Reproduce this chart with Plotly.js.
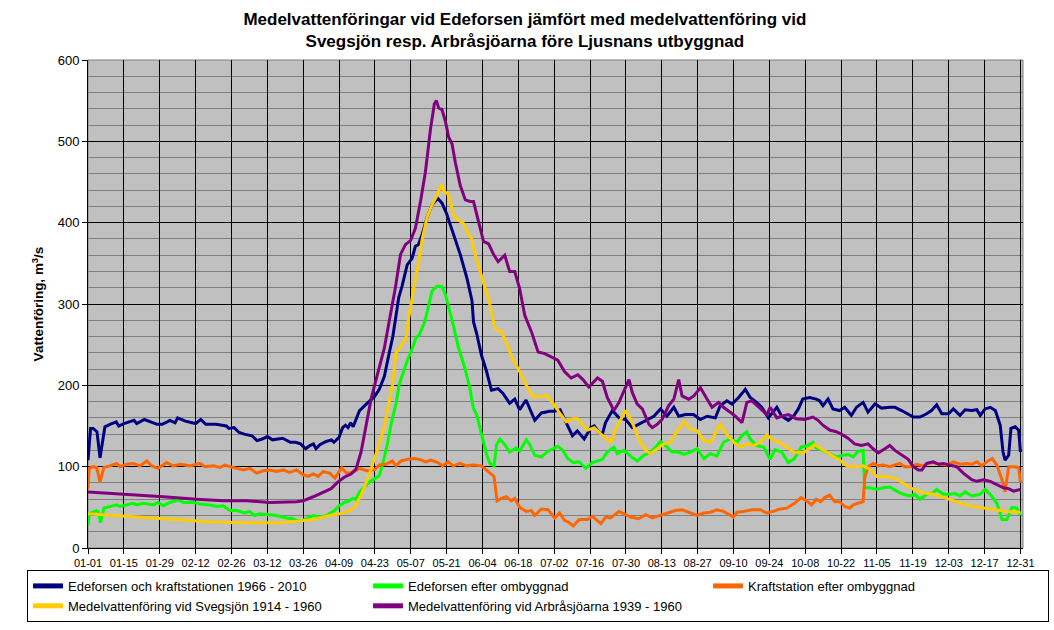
<!DOCTYPE html>
<html>
<head>
<meta charset="utf-8">
<script src="https://cdn.plot.ly/plotly-3.0.1.min.js"></script>
<style>html,body{margin:0;padding:0;background:#fff;}#chart{width:1054px;height:630px;}</style>
</head>
<body>
<div id="chart"></div>
<script>
// Tick positions (day of year, 0 = 01-01) and labels
const tickDays = [0,14,28,42,56,70,84,98,112,126,140,154,168,182,196,210,224,238,252,266,280,294,308,322,336,350,364];
const tickLabels = ["01-01","01-15","01-29","02-12","02-26","03-12","03-26","04-09","04-23","05-07","05-21","06-04","06-18","07-02","07-16","07-30","08-13","08-27","09-10","09-24","10-08","10-22","11-05","11-19","12-03","12-17","12-31"];

const seriesNames = [
  "Edeforsen och kraftstationen 1966 - 2010",
  "Edeforsen efter ombyggnad",
  "Kraftstation efter ombyggnad",
  "Medelvattenföring vid Svegsjön 1914 - 1960",
  "Medelvattenföring vid Arbråsjöarna 1939 - 1960"
];

// Edeforsen och kraftstationen 1966 - 2010
const edeDays = [0,1,2,3.5,4.7,6.6,8.6,11,12,14,18,19,22,27,29,32,34,35,38,42,44,46,50,54,55,57,59,61,64,66,68,70,72,76,79,81,83,85,86.6,88,89,90.5,93,95,96,98,99.4,100.5,101.5,102.5,103.5,106,108,109.5,111.8,113.7,115.7,117.6,119,120.2,121.3,122.6,124.6,126.5,127.8,129,130.4,132.4,134.3,136.5,138.2,140,141.4,142.7,145.3,147.9,149.9,150.5,151.7,153.6,155.6,157.5,160.1,162,164.6,166.6,168.5,171,174.4,177,180.2,182,184.3,186.5,189.1,191,193.7,196.3,197.6,199.5,200.8,202,204.7,207.3,209.9,212.5,215,217.7,220.9,223.5,226,228.7,230.6,233.2,236.4,239,241.7,244.9,246.8,249.4,251.4,254,256.6,258.5,261,263,265.6,268.9,270.8,273.4,275.4,277.3,279,281.7,284.3,285.6,286.9,288.9,290.8,293.4,295.4,298,300,302.6,304.5,307.2,309.8,313,315,317.6,320.2,322.2,324.8,327.4,329.3,331.3,333.3,335.9,337.8,340.4,342.4,345,347,348.3,350.2,352.2,354.2,356.1,357.2,358,359.4,360.3,362,363.3,364];
const edeVals = [108,147,147,143,111,149,152,155,150,153,157,153,158,152,152,157,154,160,156,153,158,152,152,150,147,148,142,140,138,132,134,137,133,135,130,130,128,122,126,128,122,127,131,133,130,136,148,151,148,154,149,169,175,179,186,195,211,240,260,285,308,322,348,356,371,373,385,407,422,430,424,411,398,385,361,332,304,278,264,237,217,194,196,190,178,183,170,182,157,166,168,168,170,155,138,144,134,148,150,142,140,154,169,160,158,148,152,156,162,171,162,173,162,164,164,158,162,160,175,181,177,185,195,185,179,173,160,173,162,157,162,171,183,185,183,181,175,183,171,169,173,163,173,179,167,177,172,173,173,169,165,161,161,165,169,176,165,165,171,163,170,169,170,163,171,173,169,151,118,108,114,147,149,145,118];

// Edeforsen efter ombyggnad
const efterDays = [0,0.5,2,3.4,4,4.9,6.2,8.6,11.2,12.5,15,17.7,19,21.6,25.5,27.4,29.4,32,35.2,37.2,41,43.7,47.6,50.2,52.8,55.4,58,61.2,63,65,67,71,73.6,77.5,80,82,83.7,86,87.9,90.5,93.1,96.2,98.1,100,102,103.3,104.6,106,108,109.8,111.8,113.7,115,117,118.3,120.2,121.5,122.8,124.8,126,128,129.3,131.3,132.4,134.3,136.3,138.2,139.5,140.6,142.6,144.5,147.1,149,150.4,151.7,153.6,155.6,156.9,158.5,159.5,160.8,162.7,164.6,167.2,168.5,171.1,172.5,174.4,177,179.6,183.4,185.4,187.3,189.5,191.7,194.3,196.9,198.9,200.8,202.7,205.3,206.6,209.2,211.8,214.4,217,219.6,221.6,223.5,225.4,228,230.6,232.6,235.2,237.8,240.4,243,245.5,248.1,250.7,253.3,255.3,257.2,258.5,261.1,263.7,266.3,268.2,270.8,273.4,275.8,278.4,281,283,284.3,286.9,289.5,292.1,294.7,296.7,298.7,300.6,302.6,303.2,305.2,307.8,310.4,313,315.6,318.2,320.9,322.8,324.8,327.4,330,331.3,333.9,336.5,338.5,340.4,342.4,345,348.3,350.2,352.2,354.8,356.8,358.7,360.7,362.6,364];
const efterVals = [28,42,44,46,45,31,49,51,53,51,53,55,53,55,53,56,52,56,59,56,56,54,53,51,52,46,46,43,45,40,42,41,40,37,36,33,34,37,40,38,40,46,52,56,58,61,60,69,75,81,85,89,103,130,152,177,201,213,232,240,258,262,277,290,316,322,321,312,299,274,248,221,198,172,164,141,115,104,101,127,134,127,118,123,119,133,127,114,112,119,125,120,110,105,106,98,105,107,109,118,124,116,120,113,107,114,118,124,131,126,118,118,115,118,122,110,116,113,130,134,130,138,143,134,126,124,109,121,118,105,110,124,126,130,123,120,116,112,114,115,112,119,120,74,74,72,74,75,70,66,64,66,60,66,68,72,66,66,67,64,69,64,66,72,66,55,35,35,50,49,40];

// Kraftstation efter ombyggnad
const kraftDays = [0,0.5,2,3.4,4.7,6.2,8.6,11.2,12.5,15,17.7,20.3,22.9,24.9,27.4,30.7,33.3,35.9,39.8,43.7,45.6,48.9,51.5,53.4,55.4,58,60.6,63.2,65.8,68.4,71,73.6,76.2,78.8,81.4,84,86,87.9,89.9,91.8,94.4,96.4,99,100.9,103.5,106,108.7,111.8,113.7,116.3,118.9,120.2,122.2,124.8,127.4,129.3,132,133.9,136.5,138.4,140.6,142.6,145.2,147.8,150.4,153.6,156.9,158.5,159.7,161.4,163.3,165.3,166.6,168.5,171.1,173.1,174.4,177,179.6,182.2,184.1,186,187.5,189.5,191.7,195,196.9,200.2,202.1,204,207.3,209.2,211.8,215,217.7,220.3,223.5,226,229.3,231.9,234.5,237.8,240.4,243,245.5,248.1,252,253.3,255.9,259.2,262.4,265,267.6,270.2,272.8,275.8,278.4,281,282.4,284.3,286,287.6,289.5,291.5,293.4,295.4,297.4,298.7,300.6,302.6,303.2,304.5,306.5,308.5,310.4,313,315,316.9,318.9,321.5,323.5,326.1,328,330,332.6,335.2,337.8,340.4,343,345,347,348.9,350.9,353,354.8,356.8,358,359.4,361.3,363.3,364];
const kraftVals = [73,98,100,99,81,99,101,104,100,103,104,101,107,101,98,105,101,103,101,104,100,101,99,102,100,98,96,98,92,95,96,94,96,93,96,90,88,91,88,94,92,86,99,92,93,98,95,96,102,103,107,101,107,109,110,109,106,108,105,101,106,101,104,101,102,101,93,88,58,61,63,58,61,50,45,46,40,48,47,37,43,34,32,27,35,35,39,30,38,37,45,42,38,36,41,37,40,42,46,47,44,40,43,44,47,45,38,44,45,47,47,43,45,48,49,55,62,57,53,60,57,62,65,57,57,51,49,53,55,57,86,100,104,101,102,100,102,104,100,100,103,101,104,105,103,102,106,103,104,103,106,101,106,110,102,84,69,100,100,99,80];

// Medelvattenföring vid Svegsjön 1914 - 1960
const svegDays = [0,9.9,22.9,35.9,48.9,61.9,74.9,81.4,87.9,94.4,98.3,102.2,104.2,106.1,107.9,110.5,113.1,115.7,117.6,119,120.2,122.2,124.1,125.2,127.2,129.1,130.4,132.4,134.3,136.3,137.9,139.1,140.4,141.4,142.7,144.7,146.6,148.6,149.7,151.2,153.1,154.3,156.9,158.8,161.4,163.3,165.9,168.5,171.1,173.7,176.3,178.9,181.5,184.1,186.7,189.3,191.2,193.2,195.1,197.6,200.2,204,206.6,209.9,212.5,215,217.7,219.6,222.2,224.8,227.4,230,232.8,235.2,237.8,240.4,243,244.9,246.8,249.4,252,254.6,257.2,259.8,262.4,265,267.6,270.2,272.8,275.4,279,281.7,283.7,286.3,289.5,293.4,296.7,300,302.6,305.2,307.8,311.7,315,318.3,322.2,326.1,330,335.2,340.4,345.7,352.2,358.7,364];
const svegVals = [42,40,37,34,32,31,31,33,35,40,42,46,51,62,75,97,122,150,179,203,240,248,258,283,320,352,379,407,422,434,447,438,436,426,409,403,399,385,381,360,340,327,299,270,266,252,231,217,200,186,186,188,178,166,155,159,159,151,145,148,140,130,150,169,154,134,120,116,122,128,130,144,155,146,144,132,130,142,152,140,130,124,128,126,130,139,132,130,124,118,117,122,127,122,116,108,100,100,101,97,88,88,86,80,72,68,66,61,55,51,48,45,44];

// Medelvattenföring vid Arbråsjöarna 1939 - 1960
const arbDays = [0,9.9,22.9,29.4,42.4,52.8,61.9,71,81.4,84,87.9,91.8,94.9,97.5,100,102.7,104.6,106.6,108.5,110.5,111.8,113.7,115.7,117.6,120,122,123.9,125.9,127.8,129.8,131.7,133.7,135.2,136,136.9,138.2,139.5,140.8,142.1,143.4,145.3,147.3,149.2,150.5,152.5,154.4,156.4,158.3,160.1,162.7,164.6,166.6,168.5,170.5,173.1,175.7,178.3,180.9,183.4,186,188.6,191.2,193.2,195.5,198.9,200.8,202.7,205.3,207.3,209.2,211.2,212.5,214.4,216.4,219,220.3,222.2,224.1,226.7,228.7,230.6,231.9,234.5,236.5,239.1,241.7,243.6,246.2,248.1,250.7,252.7,255.3,257.2,259.2,262.4,265,266.3,268.9,270.8,273.4,276.5,279.7,283,285,286.9,289.5,292.1,294.1,296.7,299.3,301.9,304.5,306.5,308.5,311.1,313,315,317.6,320.2,322.2,324.1,325.5,327.4,330,332,333.9,336.5,339.1,341.7,345,347,349.6,352.2,354.8,357.4,359.4,361.3,364];
const arbVals = [69,67,65,63,60,58,58,56,57,58,63,69,73,81,87,91,97,118,150,183,199,222,246,279,320,361,373,378,393,426,462,515,546,550,541,539,525,505,497,474,446,428,426,426,401,377,374,361,352,360,340,340,319,286,266,241,239,235,231,217,209,213,207,198,209,205,185,169,179,193,207,191,177,171,152,148,152,158,175,183,207,187,183,187,197,183,173,179,173,167,162,154,179,181,171,164,173,160,162,164,159,158,161,157,151,145,143,140,135,128,126,128,122,117,122,126,120,114,109,100,96,96,104,106,103,104,102,100,92,84,82,84,82,78,74,73,70,72];

const colors = ["#000080", "#00FF00", "#FF6600", "#FFCC00", "#800080"];
const xs = [edeDays, efterDays, kraftDays, svegDays, arbDays];
const ys = [edeVals, efterVals, kraftVals, svegVals, arbVals];

const traces = seriesNames.map((n, i) => ({
  type: "scatter",
  mode: "lines",
  name: n,
  x: xs[i],
  y: ys[i],
  line: {color: colors[i], width: 3},
  hoverinfo: "skip"
}));

const font = "Liberation Sans, Arial, sans-serif";

const layout = {
  width: 1054,
  height: 630,
  paper_bgcolor: "#ffffff",
  plot_bgcolor: "#C0C0C0",
  margin: {l: 88, r: 31, t: 60, b: 82, autoexpand: false},
  font: {family: font, color: "#000"},
  title: {
    text: "<b>Medelvattenföringar vid Edeforsen jämfört med medelvattenföring vid<br>Svegsjön resp. Arbråsjöarna före Ljusnans utbyggnad</b>",
    font: {family: font, size: 17, color: "#000"},
    x: 0.498, xanchor: "center",
    y: 0.96, yanchor: "middle", yref: "container"
  },
  xaxis: {
    range: [0, 365],
    tickmode: "array",
    tickvals: tickDays,
    ticktext: tickLabels,
    tickangle: 0,
    tickfont: {family: font, size: 11, color: "#000"},
    ticks: "outside", ticklen: 5, tickcolor: "#000",
    showgrid: true, gridcolor: "#000", gridwidth: 1,
    showline: true, linecolor: "#000", linewidth: 1,
    zeroline: false,
    automargin: false,
    fixedrange: true
  },
  yaxis: {
    range: [0, 600],
    dtick: 100, tick0: 0,
    tickfont: {family: font, size: 13, color: "#000"},
    ticks: "outside", ticklen: 5, tickcolor: "#000",
    showgrid: true, gridcolor: "#000", gridwidth: 1,
    minor: {dtick: 20, showgrid: true, gridcolor: "#808080", gridwidth: 1},
    showline: true, linecolor: "#000", linewidth: 1,
    zeroline: false,
    automargin: false,
    title: {text: "<b>Vattenföring, m<sup>3</sup>/s</b>", font: {family: font, size: 13.5, color: "#000"}, standoff: 10},
    fixedrange: true
  },
  shapes: [
    {type: "rect", xref: "paper", yref: "paper", x0: 0, x1: 1, y0: 0, y1: 1, line: {color: "#808080", width: 1}, layer: "below"}
  ],
  showlegend: true,
  legend: {
    orientation: "h",
    x: -0.0652, xanchor: "left",
    y: -0.045, yanchor: "top",
    bgcolor: "#ffffff",
    bordercolor: "#000", borderwidth: 1,
    font: {family: font, size: 13, color: "#000"},
    entrywidth: 295, entrywidthmode: "pixels",
    tracegroupgap: 0,
    itemsizing: "constant",
    traceorder: "normal"
  }
};

Plotly.newPlot("chart", traces, layout, {displayModeBar: false, staticPlot: true});
</script>
</body>
</html>
